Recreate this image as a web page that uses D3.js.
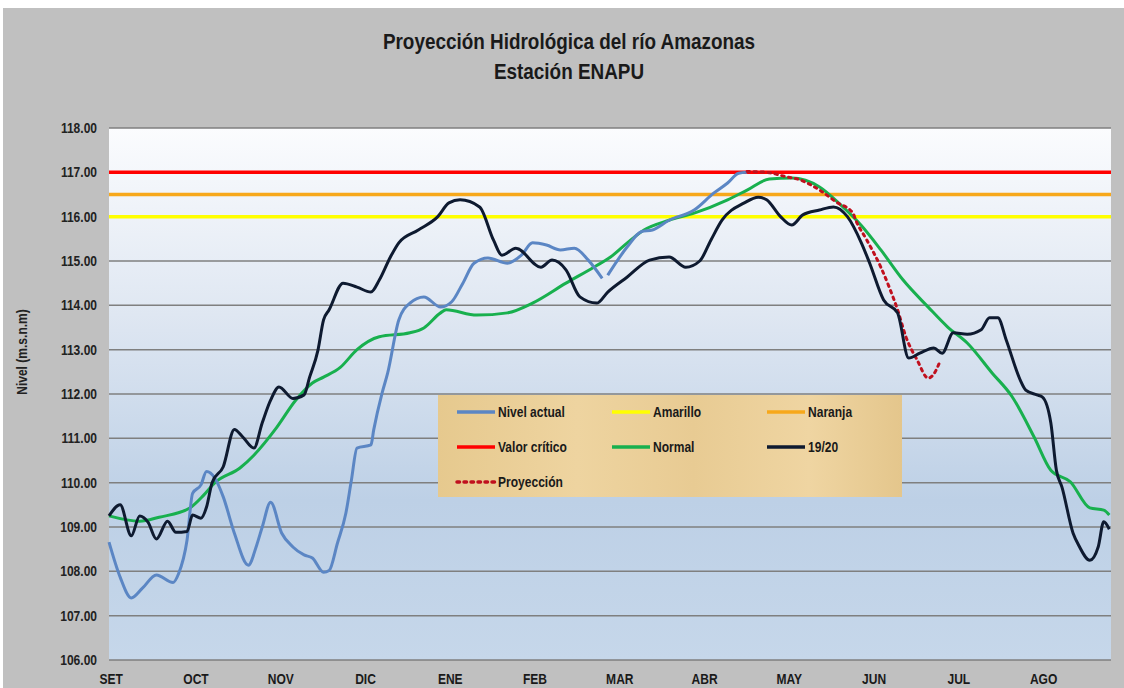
<!DOCTYPE html>
<html><head><meta charset="utf-8">
<script src="https://cdn.jsdelivr.net/npm/d3@7"></script>
<style>
html,body{margin:0;padding:0;background:#fff;}
svg{display:block;}
text{font-family:"Liberation Sans",Arial,sans-serif;font-weight:bold;}
</style></head>
<body>
<svg id="chart" width="1124" height="688"></svg>
<script>
// ---- data (x = days since 1 Sep, y = level in m.s.n.m) ----
const months = ["SET","OCT","NOV","DIC","ENE","FEB","MAR","ABR","MAY","JUN","JUL","AGO"];
const yTicks = [106,107,108,109,110,111,112,113,114,115,116,117,118];
const thresholds = [
  {name:"Valor crítico", value:117.0, color:"#ff0000"},
  {name:"Naranja", value:116.5, color:"#f7a81b"},
  {name:"Amarillo", value:116.0, color:"#ffff00"}
];
const normalSeries = [[0,109.25],[11,109.13],[18,109.22],[29,109.43],[34,109.72],[38,110.0],[47,110.33],[52,110.62],[60,111.23],[67,111.86],[73,112.25],[77,112.38],[83,112.6],[89,113.0],[97,113.29],[108,113.38],[113,113.49],[119,113.83],[121,113.9],[132,113.78],[143,113.83],[152,114.05],[164,114.5],[174,114.86],[180,115.09],[186,115.41],[192,115.7],[201,115.92],[210,116.08],[222,116.38],[229,116.6],[237,116.85],[245,116.87],[255,116.67],[262,116.3],[270,115.8],[277,115.25],[285,114.57],[294,113.96],[301,113.51],[308,113.15],[317,112.47],[324,111.95],[332,111.03],[338,110.28],[345,110.02],[352,109.43],[357,109.38],[359,109.27]];
const series1920 = [[0,109.25],[4,109.5],[8,108.8],[11,109.25],[14,109.11],[17,108.73],[21,109.13],[24,108.88],[28,108.9],[30,109.27],[33,109.2],[35,109.45],[37,110.0],[41,110.36],[45,111.2],[48,111.03],[52,110.78],[55,111.35],[58,111.86],[61,112.16],[66,111.9],[70,111.98],[72,112.38],[75,112.99],[77,113.67],[79,113.9],[84,114.5],[89,114.41],[94,114.3],[97,114.57],[101,115.09],[104,115.41],[111,115.7],[118,116.0],[122,116.31],[126,116.38],[133,116.22],[138,115.47],[141,115.13],[146,115.29],[155,114.86],[159,115.02],[164,114.8],[169,114.19],[175,114.05],[179,114.3],[186,114.64],[194,115.02],[201,115.09],[207,114.86],[212,115.0],[216,115.47],[220,115.92],[228,116.31],[233,116.44],[236,116.38],[241,116.0],[245,115.81],[249,116.04],[255,116.15],[260,116.22],[265,116.0],[270,115.41],[273,114.95],[278,114.12],[283,113.83],[287,112.81],[291,112.92],[296,113.04],[299,112.92],[303,113.38],[308,113.35],[313,113.45],[316,113.72],[319,113.72],[322,113.22],[327,112.32],[329,112.09],[333,111.98],[335,111.93],[338,111.35],[340,110.28],[342,109.9],[346,108.86],[348,108.59],[352,108.25],[355,108.55],[357,109.12],[359,108.95]];
const nivelActual = [[0,108.66],[4,107.87],[8,107.4],[12,107.62],[17,107.92],[23,107.75],[25,107.95],[28,108.7],[30,109.76],[33,109.95],[35,110.25],[38,110.1],[41,109.68],[45,108.86],[50,108.14],[53,108.59],[55,109.0],[58,109.56],[62,108.86],[66,108.55],[70,108.37],[73,108.3],[77,107.98],[79,108.02],[82,108.64],[85,109.31],[87,110.06],[89,110.78],[94,110.85],[95,111.19],[98,112.02],[100,112.47],[104,113.67],[108,114.05],[113,114.19],[119,113.96],[123,114.08],[127,114.5],[131,114.95],[136,115.07],[143,114.95],[148,115.13],[152,115.41],[157,115.36],[162,115.25],[167,115.29],[172,115.02],[177,114.61],[178,null],[179,114.68],[186,115.32],[191,115.66],[195,115.7],[201,115.92],[210,116.15],[217,116.53],[222,116.76],[226,116.98],[229,117.0]];
const proyeccion = [[229,117.02],[236,117.0],[243,116.9],[248,116.83],[255,116.6],[261,116.33],[267,116.08],[268,115.92],[272,115.47],[277,114.86],[280,114.41],[283,113.9],[286,113.29],[290,112.77],[294,112.36],[296,112.45],[298,112.7]];
const daysPerMonth = 30.42;
const lastDay = 359.6;

// ---- layout ----
const svg = d3.select("#chart");
const W = 1124, H = 688;
const plot = {left:109, right:1111, top:128, bottom:660};
const SX = 0.86; // horizontal condensing to mimic a narrow font

const defs = svg.append("defs");
const grad = defs.append("linearGradient").attr("id","bg").attr("x1",0).attr("y1",0).attr("x2",0).attr("y2",1);
[["0%","#fbfcfe"],["35%","#dfe7f2"],["70%","#bdd0e6"],["100%","#c6d7ea"]].forEach(s=>grad.append("stop").attr("offset",s[0]).attr("stop-color",s[1]));
const pap = defs.append("linearGradient").attr("id","pap").attr("x1",0).attr("y1",0).attr("x2",1).attr("y2",0);
[["0%","#e6c98e"],["30%","#eed4a0"],["55%","#e8cb93"],["80%","#efd5a2"],["100%","#e4c68c"]].forEach(s=>pap.append("stop").attr("offset",s[0]).attr("stop-color",s[1]));

// outer background
svg.append("rect").attr("x",0).attr("y",0).attr("width",W).attr("height",H).attr("fill","#ffffff");
svg.append("rect").attr("x",3).attr("y",8).attr("width",W-3).attr("height",H-8).attr("fill","#c0c0c0");
svg.append("rect").attr("x",plot.left).attr("y",plot.top).attr("width",plot.right-plot.left).attr("height",plot.bottom-plot.top).attr("fill","url(#bg)");

const x = d3.scaleLinear().domain([0,lastDay]).range([plot.left,plot.right]);
const y = d3.scaleLinear().domain([106,118]).range([plot.bottom,plot.top]);

// gridlines
svg.append("g").selectAll("line").data(yTicks).join("line")
  .attr("x1",plot.left).attr("x2",plot.right)
  .attr("y1",d=>y(d)).attr("y2",d=>y(d))
  .attr("stroke","#7f7f7f").attr("stroke-width",1.5);

// helper: condensed text at (tx,ty)
function ctext(g, tx, ty, str, size, anchor){
  return g.append("text").attr("transform",`translate(${tx},${ty}) scale(${SX},1)`)
    .attr("text-anchor",anchor||"start").attr("font-size",size).attr("fill","#1a1a1a").text(str);
}

// y axis labels
const yAxis = d3.axisLeft(y).tickValues(yTicks).tickFormat(d3.format(".2f")).tickSize(0).tickPadding(10);
const ya = svg.append("g").attr("transform",`translate(${plot.left},0)`).call(yAxis);
ya.select(".domain").remove();
ya.selectAll("text").attr("font-size",14).attr("fill","#222").attr("transform",`scale(${SX},1)`)
  .attr("x",-12/SX)
  .style("font-family",'"Liberation Sans",Arial,sans-serif').style("font-weight","bold");

// x axis labels
const xa = svg.append("g").attr("transform",`translate(0,${plot.bottom})`)
  .call(d3.axisBottom(x).tickValues(months.map((m,i)=>i*daysPerMonth)).tickFormat((d,i)=>months[i]).tickSize(0).tickPadding(14));
xa.select(".domain").remove();
xa.selectAll("text").attr("font-size",14).attr("fill","#1a1a1a").attr("dx",2).attr("transform",`scale(${SX},1)`)
  .style("font-family",'"Liberation Sans",Arial,sans-serif').style("font-weight","bold");

// title
ctext(svg,569,49,"Proyección Hidrológica del río Amazonas",22,"middle");
ctext(svg,569,79,"Estación ENAPU",22,"middle");

// y axis title
svg.append("text").attr("transform",`translate(27,352) rotate(-90) scale(${SX},1)`).attr("text-anchor","middle").attr("font-size",14).attr("fill","#222").text("Nivel (m.s.n.m)");

// threshold lines
svg.append("g").selectAll("line").data(thresholds).join("line")
  .attr("x1",plot.left).attr("x2",plot.right)
  .attr("y1",d=>y(d.value)).attr("y2",d=>y(d.value))
  .attr("stroke",d=>d.color).attr("stroke-width",3.5);

const line = d3.line().defined(d=>d[1]!==null).x(d=>x(d[0])).y(d=>y(d[1])).curve(d3.curveMonotoneX);

svg.append("path").datum(normalSeries).attr("d",line).attr("fill","none").attr("stroke","#18b04e").attr("stroke-width",3);
svg.append("path").datum(nivelActual).attr("d",line).attr("fill","none").attr("stroke","#5b86c4").attr("stroke-width",3);
svg.append("path").datum(proyeccion).attr("d",line).attr("fill","none").attr("stroke","#c0101e").attr("stroke-width",3).attr("stroke-dasharray","2.5,4.5").attr("stroke-linecap","round");
svg.append("path").datum(series1920).attr("d",line).attr("fill","none").attr("stroke","#0e1a30").attr("stroke-width",3);

// legend
const lg = svg.append("g");
lg.append("rect").attr("x",438).attr("y",395).attr("width",464).attr("height",102).attr("fill","url(#pap)");
const legendItems = [
  {name:"Nivel actual", color:"#5b86c4", col:0, row:0},
  {name:"Amarillo", color:"#ffff00", col:1, row:0},
  {name:"Naranja", color:"#f7a81b", col:2, row:0},
  {name:"Valor crítico", color:"#ff0000", col:0, row:1},
  {name:"Normal", color:"#18b04e", col:1, row:1},
  {name:"19/20", color:"#0e1a30", col:2, row:1},
  {name:"Proyección", color:"#c0101e", col:0, row:2, dash:true}
];
const colX = [457,612,767], rowY = [412,447,482];
legendItems.forEach(it=>{
  const lx = colX[it.col], ly = rowY[it.row];
  lg.append("line").attr("x1",lx).attr("x2",lx+38).attr("y1",ly).attr("y2",ly)
    .attr("stroke",it.color).attr("stroke-width",3.5)
    .attr("stroke-dasharray",it.dash?"2.5,4.5":null).attr("stroke-linecap",it.dash?"round":null);
  ctext(lg,lx+41,ly+5,it.name,14);
});
</script>
</body></html>
